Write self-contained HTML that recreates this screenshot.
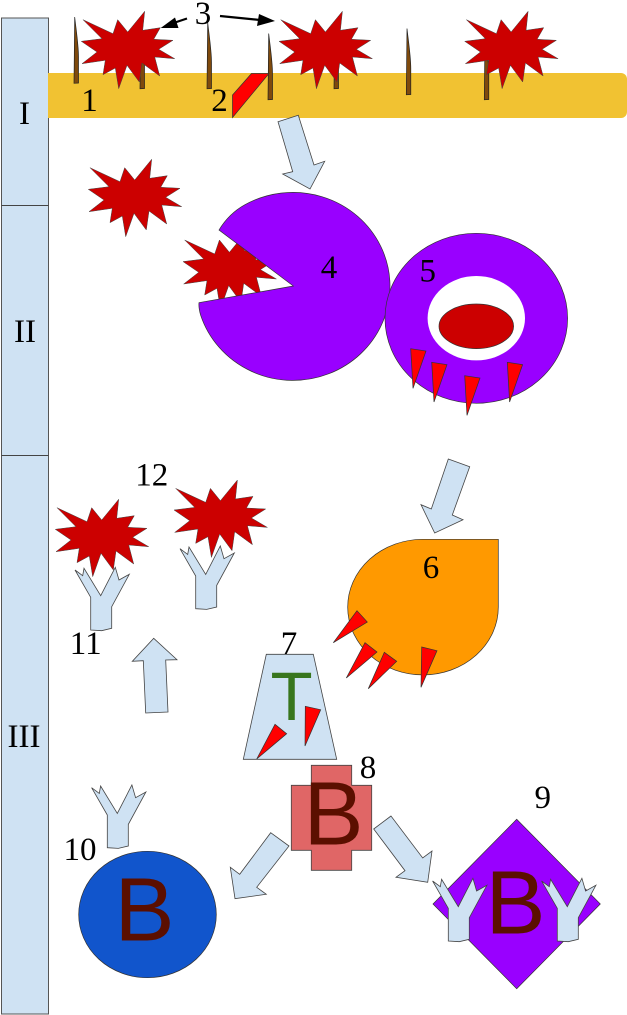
<!DOCTYPE html>
<html><head><meta charset="utf-8"><style>
html,body{margin:0;padding:0;background:#fff}
svg{display:block}
text{font-family:"Liberation Serif",serif;font-size:33px;fill:#000;text-anchor:middle}
text.b{font-family:"Liberation Sans",sans-serif;font-size:90px;fill:#5b0f00;text-anchor:start}
.s{fill:#c00;stroke:#444;stroke-width:.5}
.k{fill:#7f4a0c;stroke:#222;stroke-width:.7}
.r{fill:#f00;stroke:#333;stroke-width:.7}
.a{fill:#cfe2f3;stroke:#444;stroke-width:.8}
</style></head><body>
<svg width="627" height="1015" viewBox="0 0 627 1015" xmlns="http://www.w3.org/2000/svg">
<defs>
<polygon id="star" class="s" points="90,167.7 120,181.7 124.7,167.7 134.7,180 151.7,159.3 149.7,178.3 167.3,175.7 160.7,187.3 180,188.3 165.7,197.3 181.7,206.7 161.7,205 166.7,224 149,211 146.3,230 134,213.3 125.7,236.7 122.3,216 110,222.7 112.3,208.3 89,211.7 104,200 88.3,189.3 109,186.7"/>
<path id="spk" class="k" d="M.7 0C2 12 4.5 28 4.5 40L4.5 66L0 66.3Z"/>
<polygon id="y" class="a" points="-.7,2.7 7,8.4 8.3,1 25,28.4 39.6,0 43.3,12.7 53.6,7 36,39.4 36,61 26,63.4 15,62.7 15,30"/>
<polygon id="t" class="r" points="0,0 15.3,2.3 2.3,39.7"/>
</defs>

<!-- left column -->
<rect x="1.5" y="18" width="47" height="996" fill="#cfe2f3" stroke="#555" stroke-width="1"/>
<line x1="1.5" y1="205.5" x2="48.5" y2="205.5" stroke="#444"/>
<line x1="1.5" y1="455.5" x2="48.5" y2="455.5" stroke="#444"/>
<text x="24.5" y="124">I</text>
<text x="25" y="342">II</text>
<text x="24" y="747">III</text>

<!-- membrane -->
<path d="M48 73H621a6 6 0 0 1 6 6V112a6 6 0 0 1-6 6H48Z" fill="#f1c232"/>
<use href="#spk" x="74" y="17"/>
<use href="#spk" x="140" y="22.5"/>
<use href="#spk" x="207" y="22.5"/>
<use href="#spk" x="268" y="33.5"/>
<use href="#spk" x="334" y="22.5"/>
<use href="#spk" x="406.3" y="28.5"/>
<use href="#spk" x="484.3" y="33.5"/>
<polygon class="r" points="232.5,117.5 232.5,95 251.5,73.5 269,73.5"/>
<use href="#star" x="-7" y="-148"/>
<use href="#star" x="190.7" y="-148"/>
<use href="#star" x="376.4" y="-148"/>
<text x="89.5" y="111">1</text>
<text x="219.5" y="111">2</text>
<text x="203" y="24">3</text>
<g stroke="#000" stroke-width="2.2" fill="#000">
<line x1="187" y1="18.5" x2="172" y2="23.5"/>
<polygon stroke="none" points="160.7,28 175,17.5 178.5,28"/>
<line x1="220" y1="16" x2="260" y2="20"/>
<polygon stroke="none" points="275,21 259,14 257,26"/>
</g>

<!-- arrow -->
<polygon class="a" points="278,121.7 298.3,115.3 314,165 324.7,161.3 310,189 282.7,174 292.7,171.7"/>

<!-- section II -->
<use href="#star"/>
<use href="#star" x="94.7" y="72.3"/>
<path d="M293.3 286L219 230Q229 213.5 245 204.7A97 94 0 1 1 200.6 315Q198.5 308 199 302.7Z" fill="#90f" stroke="#333" stroke-width=".7"/>
<text x="329" y="278">4</text>
<ellipse cx="476.3" cy="318.3" rx="91.3" ry="85" fill="#90f" stroke="#333" stroke-width=".7"/>
<ellipse cx="476.3" cy="318.2" rx="48.7" ry="42.2" fill="#fff"/>
<ellipse cx="476.3" cy="326.3" rx="37.3" ry="22.3" fill="#c00" stroke="#333" stroke-width=".7"/>
<text x="427.7" y="281.7">5</text>
<use href="#t" x="410.7" y="348.7"/>
<use href="#t" x="431.7" y="362.3"/>
<use href="#t" x="464.7" y="375.7"/>
<use href="#t" x="507.3" y="362.3"/>

<!-- section III -->
<polygon class="a" points="448.3,459 469.7,466.7 452.3,515 463,519.7 434.7,533 421,504.7 431.3,509"/>
<path d="M423 539.3H498.3V607A75.3 67.8 0 1 1 423 539.3Z" fill="#f90" stroke="#333" stroke-width=".7"/>
<text x="431" y="578">6</text>
<polygon class="r" points="357,610.7 367.3,622 333.3,642.7"/>
<polygon class="r" points="365,642.7 377,652 346.3,678"/>
<polygon class="r" points="384.3,652.3 396.7,661.3 368.3,688.7"/>
<polygon class="r" points="421.7,647 437,650.7 421,687.3"/>

<polygon class="a" points="266.3,654.3 313.3,654.3 336.7,759.3 243.3,759.3"/>
<text x="289" y="654">7</text>
<text class="b" x="270.5" y="720" style="font-size:69px;fill:#38761d">T</text>
<polygon class="r" points="305.3,706.3 320.7,709.7 305,746"/>
<polygon class="r" points="275,724.3 286.7,733.7 256.7,759"/>

<use href="#star" x="-33" y="340"/>
<use href="#star" x="85.7" y="320.7"/>
<use href="#y" x="75.7" y="567.3"/>
<use href="#y" x="180.7" y="546"/>
<text x="85.7" y="654">11</text>
<text x="151.7" y="485.6">12</text>
<polygon class="a" points="153.7,638.3 177,659.7 165.7,660 168,712 145.7,713 143.3,660.7 132.3,661.3"/>

<!-- B cells -->
<polygon points="311.3,765.3 351.7,765.3 351.7,785.3 371.7,785.3 371.7,850.3 351.7,850.3 351.7,870.3 311.3,870.3 311.3,850.3 291.3,850.3 291.3,785.3 311.3,785.3" fill="#e06666" stroke="#444" stroke-width=".8"/>
<text class="b" x="303.5" y="844.3">B</text>
<text x="368" y="778">8</text>

<polygon class="a" points="270.7,832.7 289,846 256.7,887.3 266.3,894.3 235,898.7 230.3,867.3 239.7,874.3"/>
<polygon class="a" points="391,816 373.7,829 405,870.7 396,877.3 427.7,882.3 432,851 422.7,858"/>

<ellipse cx="147.5" cy="914.5" rx="68.8" ry="63.2" fill="#1155cc" stroke="#333" stroke-width=".7"/>
<text class="b" x="114.5" y="940.7">B</text>
<use href="#y" x="92.3" y="785"/>
<text x="80" y="860">10</text>

<polygon points="516.7,819.3 600.3,904 516.7,988.7 433,904" fill="#90f" stroke="#333" stroke-width=".7"/>
<text class="b" x="485.5" y="933.3">B</text>
<use href="#y" x="433.3" y="878.3"/>
<use href="#y" x="542.3" y="878.3"/>
<text x="542.7" y="808">9</text>
</svg>
</body></html>
